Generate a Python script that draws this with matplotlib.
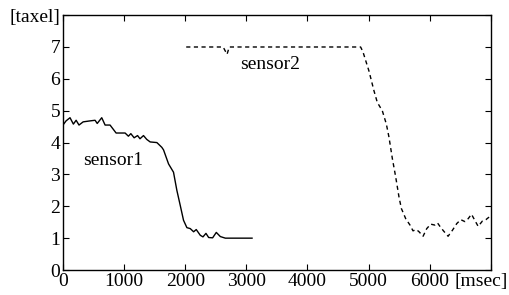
import numpy as np
import matplotlib
matplotlib.use('Agg')
import matplotlib.pyplot as plt
import matplotlib.transforms as mtransforms

plt.rcParams['font.family'] = ['Liberation Serif', 'DejaVu Serif']

# sensor1 (solid) : time [msec], value [taxel]
s1_t = [0, 50, 115, 170, 215, 262, 330, 440, 525, 560, 634, 689, 770, 869, 934,
        1016, 1070, 1110, 1164, 1220, 1260, 1317, 1370, 1426, 1536, 1617, 1645,
        1727, 1808, 1863, 1918, 1972, 2027, 2082, 2137, 2180, 2246, 2290, 2339,
        2383, 2448, 2508, 2574, 2656, 2800, 3093]
s1_v = [4.55, 4.68, 4.78, 4.58, 4.7, 4.55, 4.65, 4.68, 4.7, 4.6, 4.78, 4.55,
        4.55, 4.3, 4.3, 4.3, 4.2, 4.28, 4.15, 4.22, 4.12, 4.22, 4.1, 4.02, 4.0,
        3.85, 3.77, 3.33, 3.07, 2.5, 2.03, 1.56, 1.33, 1.3, 1.2, 1.27, 1.09,
        1.04, 1.15, 1.02, 1.01, 1.18, 1.05, 1.0, 1.0, 1.0]

# sensor2 (dashed)
s2_t = [2016, 2620, 2684, 2720, 4814, 4869, 4907, 5005, 5087, 5142, 5224, 5290,
        5333, 5388, 5443, 5497, 5536, 5607, 5677, 5726, 5781, 5825, 5891, 5951,
        6016, 6082, 6126, 6170, 6224, 6300, 6372, 6443, 6508, 6574, 6628, 6683,
        6737, 6792, 6863, 6918, 6989, 7050]
s2_v = [7.0, 7.0, 6.77, 7.0, 7.0, 7.0, 6.85, 6.25, 5.63, 5.26, 5.0, 4.58, 4.17,
        3.5, 2.92, 2.29, 1.93, 1.61, 1.41, 1.23, 1.27, 1.2, 1.06, 1.3, 1.44,
        1.41, 1.48, 1.36, 1.23, 1.06, 1.25, 1.46, 1.58, 1.52, 1.61, 1.75, 1.56,
        1.37, 1.54, 1.58, 1.69, 1.7]

xticks = [0, 1000, 2000, 3000, 4000, 5000, 6000, 7000]
xlabels = ['0', '1000', '2000', '3000', '4000', '5000', '6000', '[msec]']
yticks = [0, 1, 2, 3, 4, 5, 6, 7, 8]
ylabels = ['0', '1', '2', '3', '4', '5', '6', '7', '[taxel]']

fig = plt.figure(figsize=(5.1, 2.95), dpi=100)
ax = fig.add_axes([0.1235, 0.0847, 0.839, 0.864])

ax.plot(s1_t, s1_v, color='black', lw=1.0)
ax.plot(s2_t, s2_v, color='black', lw=1.0, linestyle=(0, (3, 2.5)))

ax.text(820, 3.44, 'sensor1', fontsize=14, ha='center', va='center')
ax.text(3390, 6.46, 'sensor2', fontsize=14, ha='center', va='center')

ax.set_xlim(0, 7000)
ax.set_ylim(0, 8)
ax.set_xticks(xticks)
ax.set_xticklabels(xlabels)
ax.set_yticks(yticks)
ax.set_yticklabels(ylabels)
ax.tick_params(direction='in', length=4, width=0.8, top=True, right=True,
               labelsize=14, pad=2)
for sp in ax.spines.values():
    sp.set_linewidth(1.0)

# shift the unit label on the x axis left so it stays inside the figure
lab = ax.get_xticklabels()[-1]
lab.set_transform(lab.get_transform() +
                  mtransforms.ScaledTranslation(-0.1, 0, fig.dpi_scale_trans))

fig.savefig('out.png', dpi=100)
